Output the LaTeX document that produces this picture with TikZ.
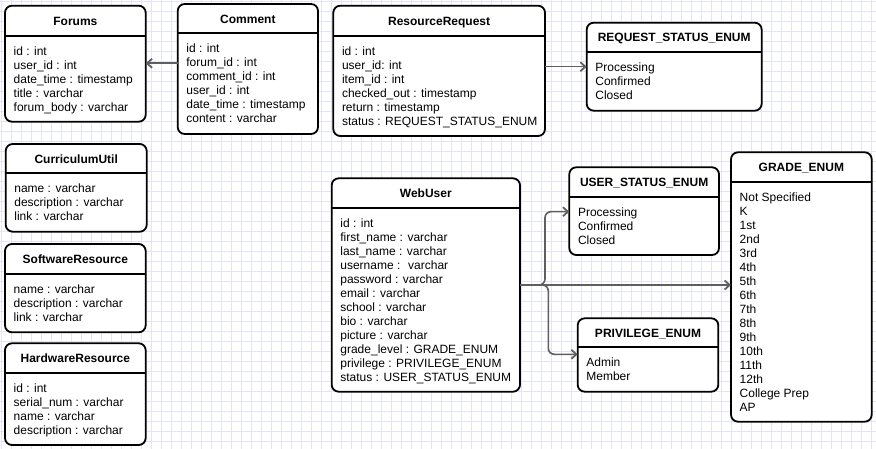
\documentclass[tikz,border=0pt]{standalone}
\usepackage{fontspec}
\setmainfont{Liberation Sans}
\usetikzlibrary{arrows.meta}
\definecolor{gridc}{RGB}{228,228,248}
\definecolor{connc}{RGB}{95,95,95}
\tikzset{
  tbl/.style={draw=black, fill=white, line width=1.8pt, rounded corners=7pt, inner sep=0pt, outer sep=0pt, anchor=north west},
  hdr/.style={draw=black, line width=1.8pt},
  ttl/.style={font=\fontsize{12}{14}\selectfont\bfseries, inner sep=0pt, anchor=base},
  rowtext/.style={font=\fontsize{12}{14}\selectfont, inner sep=0pt, anchor=base west},
  conn/.style={draw=connc, line width=1.6pt, -{Straight Barb[length=5pt,width=9pt,line width=1.8pt]}},
}
% name, left, top, right, bottom, header y, title, rows
\newcommand{\erbox}[8]{%
  \node[tbl, minimum width={#4-#2}, minimum height={#5-#3}] (#1) at (#2,#3) {};
  \draw[hdr] (#2,#6) -- (#4,#6);
  \node[ttl] (#1-title) at ({(#2+#4)/2},{(#3+#6)/2+4.5}) {#7};
  \foreach \rowtxt [count=\rowi] in {#8} {
    \node[rowtext] (#1-\rowi) at ({#2+8.5},{#6+5.5+14*\rowi}) {\rowtxt};
  }
}
\begin{document}
\begin{tikzpicture}[x=1pt,y=-1pt]
\useasboundingbox (0,0) rectangle (876,449);
\fill[white] (0,0) rectangle (876,449);
\foreach \gx in {1.7,11.7,...,876} \draw[gridc, line width=1pt] (\gx,0) -- (\gx,449);
\foreach \gy in {1.7,11.7,...,449} \draw[gridc, line width=1pt] (0,\gy) -- (876,\gy);

\erbox{forums}{5}{5.7}{145.7}{121.7}{35.7}{Forums}{id : int, user\_id : int, date\_time : timestamp, title : varchar, forum\_body : varchar}
\erbox{comment}{177.7}{4}{318}{134}{33.3}{Comment}{id : int, forum\_id : int, comment\_id : int, user\_id : int, date\_time : timestamp, content : varchar}
\erbox{resreq}{333.3}{5.7}{545}{136}{35.7}{ResourceRequest}{id : int, user\_id: int, item\_id : int, checked\_out : timestamp, return : timestamp, status : REQUEST\_STATUS\_ENUM}
\erbox{reqstat}{586.7}{22.7}{761.7}{110.7}{52.3}{REQUEST\_STATUS\_ENUM}{Processing, Confirmed, Closed}
\erbox{curr}{5.7}{144}{146.7}{231.7}{173.3}{CurriculumUtil}{name : varchar, description : varchar, link : varchar}
\erbox{soft}{5}{244}{145.7}{332.3}{274}{SoftwareResource}{name : varchar, description : varchar, link : varchar}
\erbox{hard}{5}{343.3}{145.7}{445}{373.3}{HardwareResource}{id : int, serial\_num : varchar, name : varchar, description : varchar}
\erbox{webuser}{331.7}{178.3}{520}{391.7}{207.7}{WebUser}{id : int, first\_name : varchar, last\_name : varchar, username : \ varchar, password : varchar, email : varchar, school : varchar, bio : varchar, picture : varchar, grade\_level : GRADE\_ENUM, privilege : PRIVILEGE\_ENUM, status : USER\_STATUS\_ENUM}
\erbox{userstat}{569.3}{167.3}{719}{255}{196.7}{USER\_STATUS\_ENUM}{Processing, Confirmed, Closed}
\erbox{priv}{577.7}{318.3}{718.3}{391.7}{347.3}{PRIVILEGE\_ENUM}{Admin, Member}
\erbox{grade}{731}{152.3}{871.7}{421.7}{182.3}{GRADE\_ENUM}{Not Specified, K, 1st, 2nd, 3rd, 4th, 5th, 6th, 7th, 8th, 9th, 10th, 11th, 12th, College Prep, AP}

\draw[conn] (comment.west |- 0,63.3) -- (forums.east |- 0,63.3);
\draw[conn] (resreq.east |- 0,66.7) -- (reqstat.west |- 0,66.7);
\draw[conn] (webuser.east |- 0,285) -- (grade.west |- 0,285);
\draw[conn, rounded corners=6pt] (webuser.east |- 0,285) -| (545,211.7) -- (userstat.west |- 0,211.7);
\draw[conn, rounded corners=6pt] (webuser.east |- 0,285) -| (548.3,354.3) -- (priv.west |- 0,354.3);
\end{tikzpicture}
\end{document}
